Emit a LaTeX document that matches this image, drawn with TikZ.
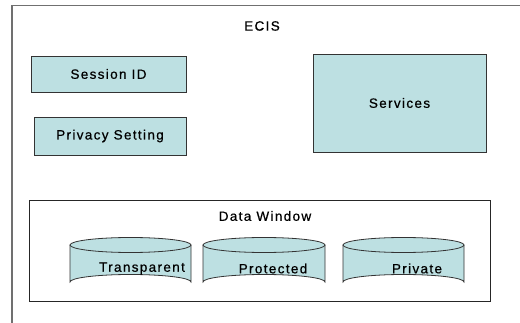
\documentclass[tikz,border=0pt]{standalone}
\usepackage{fontspec}
\setmainfont[LetterSpace=10,FakeBold=0.6]{Liberation Sans}
\definecolor{boxfill}{HTML}{BDE0E2}
\definecolor{framegray}{HTML}{707070}
\begin{document}
\begin{tikzpicture}[x=1pt,y=-1pt,
  lbl/.style={font=\fontsize{13.5}{15}\selectfont, inner sep=0pt, text=black},
  bluebox/.style={draw=black!80, fill=boxfill, line width=0.8pt},
  cyl/.style={draw=black!80, fill=boxfill, line width=0.8pt}]
\useasboundingbox (0,0) rectangle (520,323);
\fill[white] (0,0) rectangle (520,323);
% outer ECIS frame (extends beyond the picture)
\draw[framegray, line width=1.8pt] (12,340) -- (12,5.5) -- (540,5.5);
\node[lbl] (ecis) at (262,26) {ECIS};
% boxes
\draw[bluebox] (31,56) rectangle (186,92);
\node[lbl] (sid) at (108.5,74) {Session ID};
\draw[bluebox] (34,117) rectangle (186,155);
\node[lbl] (priv) at (110,136) {Privacy Setting};
\draw[bluebox] (313,54) rectangle (486,152);
\node[lbl] (serv) at (399.5,103) {Services};
% data window
\draw[draw=black!85, line width=0.8pt] (29,200) rectangle (490,301);
\node[lbl] (dw) at (265,216) {Data Window};
% cylinders
\foreach \xl/\xr/\name in {70/191/c1, 203/325/c2, 343/464/c3}{
  \pgfmathsetmacro{\cx}{(\xl+\xr)/2}
  \pgfmathsetmacro{\rx}{(\xr-\xl)/2}
  \fill[boxfill] (\xl,245) -- (\xl,282) arc[start angle=180, end angle=360, x radius=\rx, y radius=7.5] -- (\xr,245) -- cycle;
  \fill[boxfill] (\cx,245) ellipse[x radius=\rx, y radius=7.5];
  \draw[cyl, fill=none] (\xl,245) -- (\xl,282) arc[start angle=180, end angle=360, x radius=\rx, y radius=7.5] -- (\xr,245);
  \draw[cyl, fill=none] (\cx,245) ellipse[x radius=\rx, y radius=7.5];
  \coordinate (\name) at (\cx,268);
}
\node[lbl] (trans) at (142,268.5) {Transparent};
\node[lbl] (prot) at (273,268.5) {Protected};
\node[lbl] (pri) at (417,268.5) {Private};
\end{tikzpicture}
\end{document}
